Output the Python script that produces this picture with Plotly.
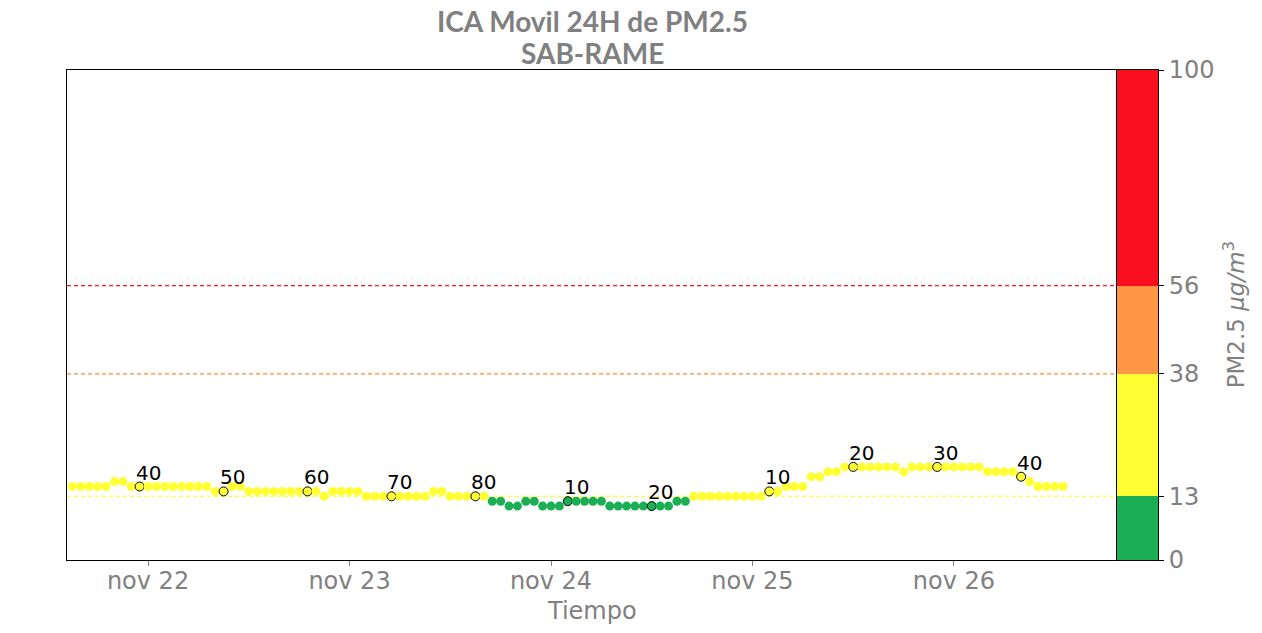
import pandas as pd
import plotly.graph_objects as go

# ---------------- data ----------------
start_time = "2021-11-21 15:00"
values = ([15] * 5 + [16] * 2 + [15] * 10 + [14] * 2 + [15] * 2 + [14] * 9 + [13]
          + [14] * 4 + [13] * 7 + [13] + [14] * 2 + [13] * 5 + [12] * 2 + [11] * 2
          + [12] * 2 + [11] * 3 + [12] * 5 + [11] * 8 + [12] * 2 + [13] * 9 + [14] * 2
          + [15] * 3 + [17] * 2 + [18] * 2 + [19] * 7 + [18] + [19] * 9 + [18] * 4
          + [17] + [16] + [15] * 4)
times = pd.date_range(start_time, periods=len(values), freq="h")

label_idx = [8, 18, 28, 38, 48, 59, 69, 83, 93, 103, 113]
label_txt = ["40", "50", "60", "70", "80", "10", "20", "10", "20", "30", "40"]

band_edges = [0, 13, 38, 56, 100]
band_colors = ["#1aaf54", "#ffff33", "#ff9645", "#fa0f1e"]
line_colors = ["#ffff33", "#ff8c2e", "#f01c24"]  # dashed lines at 13, 38, 56

xtick_vals = ["2021-11-22", "2021-11-23", "2021-11-24", "2021-11-25", "2021-11-26"]
xtick_text = ["nov 22", "nov 23", "nov 24", "nov 25", "nov 26"]
x_range = ["2021-11-21 14:21", "2021-11-26 19:25"]


def color_for(v):
    for i in range(len(band_edges) - 1):
        if v < band_edges[i + 1]:
            return band_colors[i]
    return band_colors[-1]


GRAY = "#808080"
FONT = "DejaVu Sans"
dom_main = 1050 / 1091

fig = go.Figure()

# dashed threshold lines
for thr, col in zip(band_edges[1:4], line_colors):
    fig.add_trace(go.Scatter(x=x_range, y=[thr, thr], mode="lines",
                             line=dict(color=col, width=1.3, dash="4px,3px"),
                             hoverinfo="skip", showlegend=False,
                             xaxis="x", yaxis="y"))

# points
cols = [color_for(v) for v in values]
lw = [1 if i in label_idx else 0 for i in range(len(values))]
fig.add_trace(go.Scatter(x=times, y=values, mode="markers",
                         marker=dict(size=9, color=cols,
                                     line=dict(color="black", width=lw)),
                         showlegend=False, xaxis="x", yaxis="y"))

# labels
for i, t in zip(label_idx, label_txt):
    fig.add_annotation(x=times[i], y=values[i], xref="x", yref="y", text=t,
                       showarrow=False, xanchor="left", yanchor="bottom",
                       xshift=-6, yshift=0,
                       font=dict(family=FONT, size=20, color="black"))

# colour bar as stacked bars
for i in range(len(band_colors)):
    fig.add_trace(go.Bar(x=[0], y=[band_edges[i + 1] - band_edges[i]],
                         marker=dict(color=band_colors[i], line=dict(width=0)),
                         width=1, showlegend=False, hoverinfo="skip",
                         xaxis="x2", yaxis="y2"))

fig.update_layout(
    width=1262, height=633,
    margin=dict(l=67, r=104, t=70, b=73),
    paper_bgcolor="white", plot_bgcolor="white",
    barmode="stack", bargap=0,
    xaxis=dict(domain=[0, dom_main], type="date", range=x_range,
               tickmode="array", tickvals=xtick_vals, ticktext=xtick_text,
               ticks="outside", ticklen=5, tickcolor=GRAY,
               ticklabelstandoff=-6,
               tickfont=dict(family=FONT, size=24, color=GRAY),
               showgrid=False, zeroline=False,
               showline=True, linecolor="black", linewidth=1, mirror=True),
    yaxis=dict(range=[0, 100], showticklabels=False, ticks="",
               showgrid=False, zeroline=False,
               showline=True, linecolor="black", linewidth=1, mirror=True),
    xaxis2=dict(domain=[dom_main, 1], range=[-0.5, 0.5], anchor="y2",
                showticklabels=False, ticks="", showgrid=False, zeroline=False,
                showline=True, linecolor="black", linewidth=1, mirror=True),
    yaxis2=dict(range=[0, 100], anchor="x2", side="right",
                tickmode="array", tickvals=band_edges,
                ticktext=[str(v) for v in band_edges],
                ticks="outside", ticklen=5, tickcolor="black",
                tickfont=dict(family=FONT, size=24, color=GRAY),
                showgrid=False, zeroline=False,
                showline=True, linecolor="black", linewidth=1, mirror=True),
)

# titles
fig.add_annotation(x=dom_main / 2, y=1, xref="paper", yref="paper",
                   text="<b>ICA Movil 24H de PM2.5</b>", showarrow=False,
                   yanchor="middle", yshift=49,
                   font=dict(family="Lato", size=28, color=GRAY))
fig.add_annotation(x=dom_main / 2, y=1, xref="paper", yref="paper",
                   text="<b>SAB-RAME</b>", showarrow=False,
                   yanchor="middle", yshift=17,
                   font=dict(family="Lato", size=28, color=GRAY))
fig.add_annotation(x=dom_main / 2, y=0, xref="paper", yref="paper",
                   text="Tiempo", showarrow=False, yanchor="middle", yshift=-51,
                   font=dict(family=FONT, size=24, color=GRAY))
fig.add_annotation(x=1.0700, y=0.5, xref="paper", yref="paper",
                   text="PM2.5 <i>μg/m</i><sup>3</sup>", showarrow=False,
                   textangle=-90, xanchor="center", yanchor="middle",
                   font=dict(family=FONT, size=23, color=GRAY))

fig.write_html("out.html")
